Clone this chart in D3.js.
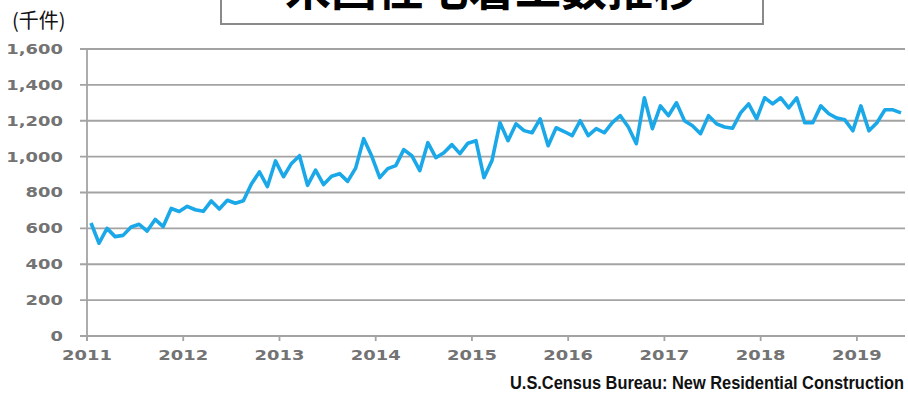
<!DOCTYPE html>
<html>
<head>
<meta charset="utf-8">
<script src="https://d3js.org/d3.v7.min.js"></script>
<style>
    body { margin: 0; background: #ffffff; }
    #chartContainer { width: 908px; height: 401px; }
</style>
</head>
<body>
<div id="chartContainer"></div>
<script>
// monthly housing starts (thousands), Jan 2011 - Jun 2019
const years = ["2011", "2012", "2013", "2014", "2015", "2016", "2017", "2018", "2019"];
const starts2011 = [630, 517, 600, 554, 561, 608, 623, 585, 650, 610, 711, 694];
const starts2012 = [723, 704, 695, 753, 708, 757, 740, 754, 847, 915, 833, 976];
const starts2013 = [888, 962, 1005, 840, 925, 844, 891, 905, 862, 936, 1100, 1003];
const starts2014 = [883, 933, 950, 1039, 1005, 922, 1078, 994, 1022, 1067, 1017, 1075];
const starts2015 = [1089, 883, 978, 1189, 1089, 1183, 1145, 1133, 1211, 1061, 1161, 1140];
const starts2016 = [1117, 1200, 1117, 1156, 1133, 1190, 1228, 1165, 1072, 1328, 1156, 1283];
const starts2017 = [1228, 1300, 1200, 1172, 1128, 1228, 1183, 1165, 1158, 1244, 1294, 1211];
const starts2018 = [1328, 1294, 1328, 1272, 1328, 1189, 1189, 1283, 1239, 1215, 1205, 1144];
const starts2019 = [1283, 1144, 1189, 1261, 1261, 1244];
const yTicks = [0, 200, 400, 600, 800, 1000, 1200, 1400, 1600];

const starts = [].concat(starts2011, starts2012, starts2013, starts2014, starts2015,
    starts2016, starts2017, starts2018, starts2019);

function render_chart() {
    const width = 908;
    const height = 401;

    let svg = d3.select('#chartContainer')
        .append("svg")
        .attr("width", width)
        .attr("height", height);

    // one band per month, point sits in the middle of its band
    let x = d3.scaleBand()
        .domain(d3.range(starts.length))
        .range([87, 905])
        .padding(0);

    let y = d3.scaleLinear()
        .domain([0, 1600])
        .range([336, 49]);

    const labelFont = "'DejaVu Sans', Verdana, sans-serif";
    const sx = 1.28; // labels in the picture are drawn wide

    // horizontal grid lines
    svg.append("g")
        .selectAll("line")
        .data(yTicks)
        .enter()
        .append("line")
        .attr("x1", 80)
        .attr("x2", 905)
        .attr("y1", d => y(d))
        .attr("y2", d => y(d))
        .attr("stroke", "#a3a3a3")
        .attr("stroke-width", 1.8);

    // y axis line
    svg.append("line")
        .attr("x1", 87).attr("x2", 87)
        .attr("y1", y(1600)).attr("y2", y(0) + 5)
        .attr("stroke", "#a3a3a3")
        .attr("stroke-width", 1.8);

    // year tick marks at the start of each year
    svg.append("g")
        .selectAll("line")
        .data(years)
        .enter()
        .append("line")
        .attr("x1", (d, i) => x(i * 12))
        .attr("x2", (d, i) => x(i * 12))
        .attr("y1", y(0))
        .attr("y2", y(0) + 5)
        .attr("stroke", "#a3a3a3")
        .attr("stroke-width", 1.8);

    // y labels
    svg.append("g")
        .attr("transform", "scale(" + sx + ",1)")
        .selectAll("text")
        .data(yTicks)
        .enter()
        .append("text")
        .attr("x", 63 / sx)
        .attr("y", d => y(d) + 5)
        .attr("text-anchor", "end")
        .attr("font-family", labelFont)
        .attr("font-size", 14)
        .attr("font-weight", "bold")
        .attr("fill", "#737373")
        .text(d => d3.format(",")(d));

    // x labels
    svg.append("g")
        .attr("transform", "scale(" + sx + ",1)")
        .selectAll("text")
        .data(years)
        .enter()
        .append("text")
        .attr("x", (d, i) => x(i * 12) / sx)
        .attr("y", 360)
        .attr("text-anchor", "middle")
        .attr("font-family", labelFont)
        .attr("font-size", 14)
        .attr("font-weight", "bold")
        .attr("fill", "#737373")
        .text(d => d);

    // the line
    let line = d3.line()
        .x((d, i) => x(i) + x.bandwidth() / 2)
        .y(d => y(d));

    svg.append("path")
        .datum(starts)
        .attr("fill", "none")
        .attr("stroke", "#1aa8e8")
        .attr("stroke-width", 3.6)
        .attr("stroke-linejoin", "round")
        .attr("d", line);

    // unit label
    svg.append("text")
        .attr("x", 12)
        .attr("y", 28)
        .attr("font-family", "'Noto Sans CJK JP', sans-serif")
        .attr("font-size", 20)
        .attr("fill", "#111")
        .text("(千件)");

    // title box, cut off at the top
    svg.append("rect")
        .attr("x", 221)
        .attr("y", -20)
        .attr("width", 542)
        .attr("height", 44)
        .attr("fill", "#ffffff")
        .attr("stroke", "#8a8a8a")
        .attr("stroke-width", 2);

    svg.append("text")
        .attr("x", 492)
        .attr("y", 5)
        .attr("text-anchor", "middle")
        .attr("font-family", "'Noto Sans CJK JP', sans-serif")
        .attr("font-size", 46)
        .attr("font-weight", "bold")
        .attr("fill", "#000")
        .text("米国住宅着工数推移");

    // source note
    svg.append("text")
        .attr("x", 904)
        .attr("y", 389)
        .attr("text-anchor", "end")
        .attr("font-family", "'Liberation Sans Narrow', 'Liberation Sans', Arial, sans-serif")
        .attr("font-size", 19)
        .attr("font-weight", "bold")
        .attr("fill", "#111")
        .attr("textLength", 394)
        .attr("lengthAdjust", "spacingAndGlyphs")
        .text("U.S.Census Bureau: New Residential Construction");
}

render_chart();
</script>
</body>
</html>
